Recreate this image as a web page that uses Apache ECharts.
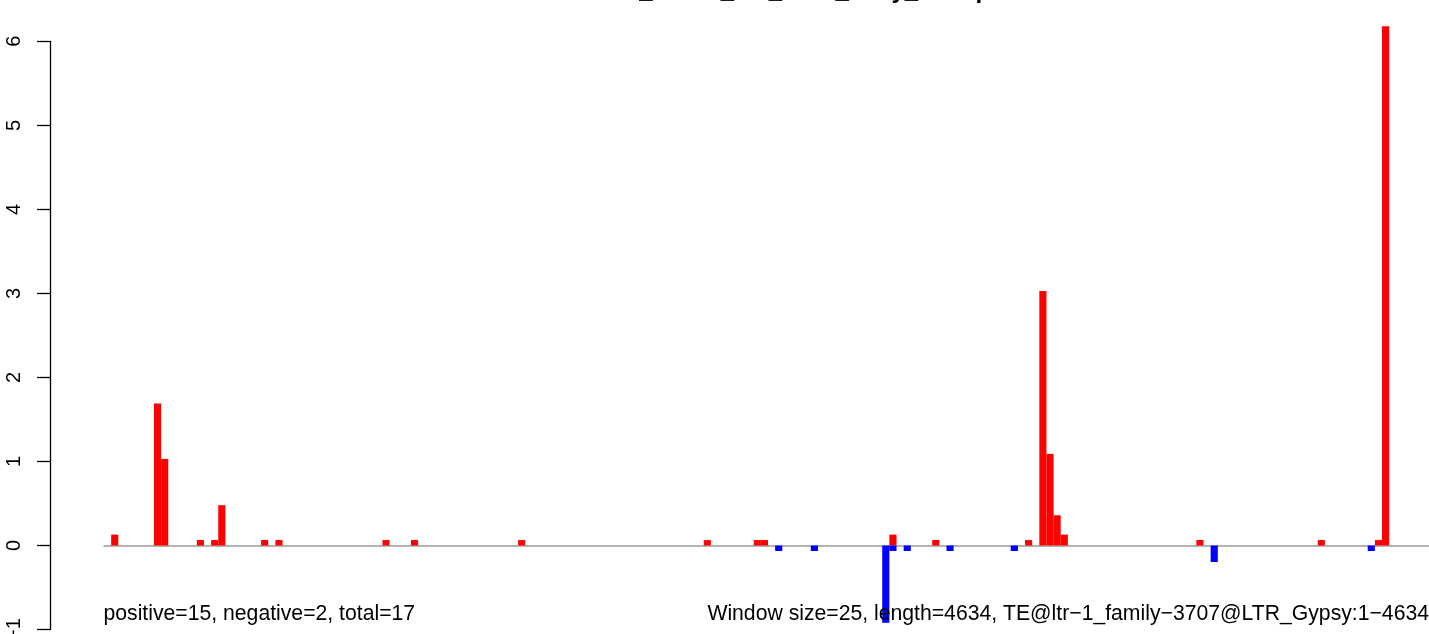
<!DOCTYPE html>
<html>
<head>
<meta charset="utf-8">
<script src="https://cdn.jsdelivr.net/npm/echarts@6/dist/echarts.min.js"></script>
<style>
html,body{margin:0;padding:0;background:#fff;}
#chart{width:1429px;height:634px;}
</style>
</head>
<body>
<div id="chart"></div>
<script>
// ---- data ----
const windowSize = 25;
const seqLength = 4634;
const nBins = 186;
const posBins = [1, 7, 8, 13, 15, 16, 22, 24, 39, 43, 58, 84, 91, 92, 110, 116, 129, 131, 132, 133, 134, 153, 170, 178, 179];
const posVals = [0.13, 1.69, 1.03, 0.065, 0.065, 0.48, 0.065, 0.065, 0.065, 0.065, 0.065, 0.065, 0.065, 0.065, 0.13, 0.065, 0.065, 3.03, 1.09, 0.36, 0.13, 0.065, 0.065, 0.065, 6.18];
const negBins = [94, 99, 109, 110, 112, 118, 127, 155, 177];
const negVals = [-0.065, -0.065, -0.92, -0.065, -0.065, -0.065, -0.065, -0.196, -0.065];
const yTicks = [-1, 0, 1, 2, 3, 4, 5, 6];
const plotYMin = -1.053;   // visible plot region limits (R extends the range)
const plotYMax = 6.492;
const titleText = 'WT_Shoot_CK_3707_early_remap';
const leftNote = 'positive=15, negative=2, total=17';
const rightNote = 'Window size=25, length=4634, TE@ltr\u22121_family\u22123707@LTR_Gypsy:1\u22124634';

// ---- build series ----
const categories = [];
const posData = [];
const negData = [];
for (let i = 0; i < nBins; i++) {
  categories.push(String(i * windowSize + 1));
  posData.push(0);
  negData.push(0);
}
posBins.forEach((b, i) => { posData[b] = posVals[i]; });
negBins.forEach((b, i) => { negData[b] = negVals[i]; });

const FONT = '"Liberation Sans", Arial, Helvetica, sans-serif';
const chart = echarts.init(document.getElementById('chart'), null, {renderer: 'canvas'});
chart.setOption({
  animation: false,
  backgroundColor: '#ffffff',
  grid: [
    {left: 50, top: 41.3, width: 1, bottom: 4.5, outerBoundsMode: 'none', containLabel: false},
    {left: 104, top: 0, width: 1328, bottom: 0, outerBoundsMode: 'none', containLabel: false}
  ],
  xAxis: [
    {type: 'value', gridIndex: 0, show: false, min: 0, max: 1},
    {
      type: 'category', gridIndex: 1, data: categories, boundaryGap: true,
      axisLine: {show: true, onZero: true, lineStyle: {color: '#9a9a9a', width: 1.5}},
      axisTick: {show: false}, axisLabel: {show: false}, splitLine: {show: false}
    }
  ],
  yAxis: [
    {
      type: 'value', gridIndex: 0, min: yTicks[0], max: yTicks[yTicks.length - 1], interval: 1,
      axisLine: {show: true, lineStyle: {color: '#000', width: 1.3}},
      axisTick: {show: true, length: 13, lineStyle: {color: '#000', width: 1.3}},
      axisLabel: {
        show: true, rotate: 90, margin: 26, fontSize: 20, color: '#000', fontFamily: FONT,
        formatter: v => String(v).replace('-', '\u2212')
      },
      splitLine: {show: false}
    },
    {
      type: 'value', gridIndex: 1, min: plotYMin, max: plotYMax,
      show: false, splitLine: {show: false}
    }
  ],
  series: [
    {
      name: 'positive', type: 'bar', xAxisIndex: 1, yAxisIndex: 1, stack: 'v',
      data: posData, barCategoryGap: '0%', itemStyle: {color: '#ff0000'}
    },
    {
      name: 'negative', type: 'bar', xAxisIndex: 1, yAxisIndex: 1, stack: 'v',
      data: negData, barCategoryGap: '0%', itemStyle: {color: '#0000ff'}
    }
  ],
  graphic: [
    {type: 'text', left: 602, y: 3, z: 100,
      style: {text: titleText, font: 'bold 24px ' + FONT, fill: '#000', verticalAlign: 'bottom'}},
    {type: 'text', x: 103.5, y: 614.5, z: 100,
      style: {text: leftNote, font: '21.2px ' + FONT, fill: '#000', align: 'left', verticalAlign: 'middle'}},
    {type: 'text', x: 1429, y: 614.5, z: 100,
      style: {text: rightNote, font: '21.2px ' + FONT, fill: '#000', align: 'right', verticalAlign: 'middle'}}
  ]
});
</script>
</body>
</html>
